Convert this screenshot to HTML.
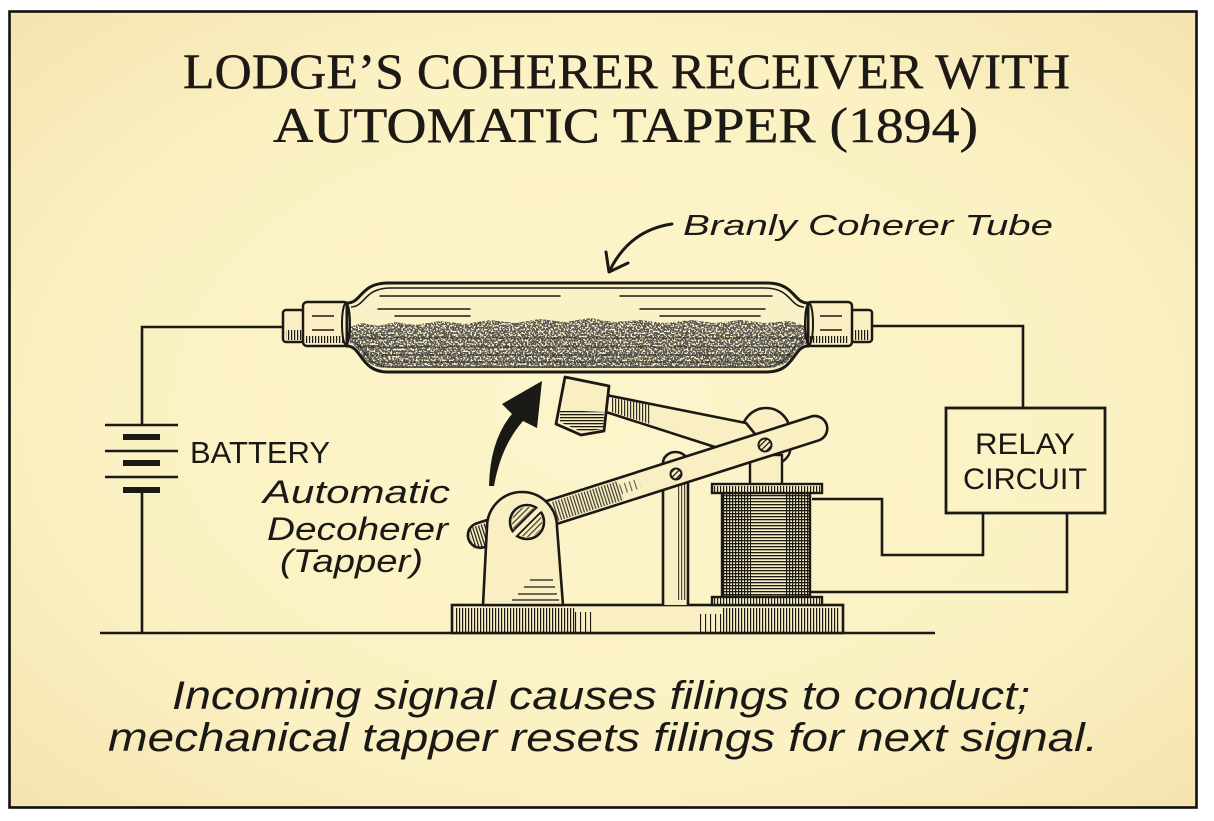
<!DOCTYPE html>
<html><head><meta charset="utf-8"><style>
html,body{margin:0;padding:0;background:#fff;}
svg{display:block;}
</style></head><body>
<svg width="1214" height="821" viewBox="0 0 1214 821" xmlns="http://www.w3.org/2000/svg">
<defs>
<radialGradient id="bg" cx="0.5" cy="0.5" r="0.75">
 <stop offset="0" stop-color="#fcf5cb"/>
 <stop offset="0.6" stop-color="#fbf1c3"/>
 <stop offset="1" stop-color="#f4e1ab"/>
</radialGradient>
<pattern id="vh" width="3" height="10" patternUnits="userSpaceOnUse"><rect x="0" y="0" width="1.2" height="10" fill="#1b1915"/></pattern>
<pattern id="vh2" width="5" height="10" patternUnits="userSpaceOnUse"><rect x="0" y="0" width="1.1" height="10" fill="#1b1915"/></pattern>
<pattern id="hh" width="10" height="3" patternUnits="userSpaceOnUse"><rect x="0" y="0" width="10" height="1.3" fill="#1b1915"/></pattern>
<pattern id="dh" width="4" height="4" patternUnits="userSpaceOnUse" patternTransform="rotate(45)"><rect width="1.3" height="4" fill="#1b1915"/></pattern>
<filter id="speck" x="340" y="315" width="480" height="62" filterUnits="userSpaceOnUse">
 <feTurbulence type="fractalNoise" baseFrequency="0.55" numOctaves="2" seed="7"/>
 <feColorMatrix type="matrix" values="0 0 0 0 0.11  0 0 0 0 0.1  0 0 0 0 0.09  1 0 0 0 0"/>
 <feComponentTransfer><feFuncA type="discrete" tableValues="0 0 0 0 0 0 0 0 0 1 1 1 1 1 1 1 1 1 1 1"/></feComponentTransfer>
</filter>
<clipPath id="fil"><path d="M 350 327 L 362 323 L 378 326 L 395 322 L 415 325 L 440 321 L 465 324 L 490 320 L 515 323 L 540 319 L 565 322 L 590 318 L 615 322 L 640 320 L 665 323 L 690 320 L 715 323 L 740 320 L 765 323 L 790 321 L 806 326 L 806 344 C 793 346 795 368 767 368 L 388 368 C 360 368 362 346 350 344 Z"/></clipPath>
</defs>

<!-- background -->
<rect x="0" y="0" width="1214" height="821" fill="#ffffff"/>
<rect x="9" y="11" width="1188" height="797" fill="url(#bg)"/>
<rect x="9.5" y="11.5" width="1187" height="796" fill="none" stroke="#111" stroke-width="2.6"/>

<!-- title -->
<g font-family="'Liberation Serif', serif" font-size="50" fill="#1d1a16" stroke="#1d1a16" stroke-width="0.4">
 <text x="183" y="88" textLength="887" lengthAdjust="spacingAndGlyphs">LODGE’S COHERER RECEIVER WITH</text>
 <text x="273" y="142" textLength="705" lengthAdjust="spacingAndGlyphs">AUTOMATIC TAPPER (1894)</text>
</g>

<!-- Branly label -->
<text x="683" y="235" font-family="'Liberation Sans', sans-serif" font-style="italic" font-size="29" fill="#1b1915" textLength="370" lengthAdjust="spacingAndGlyphs">Branly Coherer Tube</text>
<path d="M 672 224 Q 630 230 610 270" fill="none" stroke="#1b1915" stroke-width="3" stroke-linecap="round"/>
<path d="M 606 252 L 609 272 L 628 263" fill="none" stroke="#1b1915" stroke-width="3" stroke-linecap="round" stroke-linejoin="round"/>

<!-- wires -->
<g fill="none" stroke="#1b1915" stroke-width="2.6" stroke-linejoin="miter">
 <path d="M 283 327 H 142 V 425"/>
 <path d="M 142 490 V 633"/>
 <path d="M 100 633 H 935"/>
 <path d="M 872 326 H 1023 V 408"/>
 <path d="M 983 513 V 555 H 882 V 499 H 812"/>
 <path d="M 1067 513 V 592 H 810"/>
</g>

<!-- battery -->
<g stroke="#1b1915">
 <line x1="105" y1="425" x2="178" y2="425" stroke-width="2.6"/>
 <line x1="123" y1="437" x2="160" y2="437" stroke-width="6"/>
 <line x1="105" y1="451" x2="178" y2="451" stroke-width="2.6"/>
 <line x1="123" y1="463" x2="160" y2="463" stroke-width="6"/>
 <line x1="105" y1="477" x2="178" y2="477" stroke-width="2.6"/>
 <line x1="123" y1="490" x2="160" y2="490" stroke-width="6"/>
</g>
<text x="190" y="463" font-family="'Liberation Sans', sans-serif" font-size="31" fill="#1b1915" textLength="140" lengthAdjust="spacingAndGlyphs">BATTERY</text>

<!-- tapper labels -->
<g font-family="'Liberation Sans', sans-serif" font-style="italic" font-size="32" fill="#1b1915">
 <text x="263" y="503" textLength="187" lengthAdjust="spacingAndGlyphs">Automatic</text>
 <text x="267" y="540" textLength="181" lengthAdjust="spacingAndGlyphs">Decoherer</text>
 <text x="280" y="572" textLength="143" lengthAdjust="spacingAndGlyphs">(Tapper)</text>
</g>

<!-- relay -->
<rect x="946" y="408" width="159" height="105" fill="none" stroke="#1b1915" stroke-width="2.8"/>
<g font-family="'Liberation Sans', sans-serif" font-size="30" fill="#1b1915">
 <text x="975" y="454" textLength="100" lengthAdjust="spacingAndGlyphs">RELAY</text>
 <text x="963" y="489" textLength="124" lengthAdjust="spacingAndGlyphs">CIRCUIT</text>
</g>

<!-- tube caps -->
<g stroke="#1b1915" stroke-width="2.5">
 <rect x="283" y="310" width="21" height="32" rx="3" fill="#f9efc3"/>
 <rect x="303" y="302" width="45" height="44" rx="4" fill="#f9efc3"/>
 <rect x="851" y="310" width="21" height="32" rx="3" fill="#f9efc3"/>
 <rect x="807" y="302" width="45" height="44" rx="4" fill="#f9efc3"/>
</g>
<rect x="286" y="330" width="16" height="10" fill="url(#vh)"/>
<rect x="306" y="336" width="38" height="7" fill="url(#vh)"/>
<rect x="854" y="330" width="16" height="10" fill="url(#vh)"/>
<rect x="810" y="336" width="38" height="7" fill="url(#vh)"/>
<g stroke="#1b1915" stroke-width="1.4">
 <line x1="312" y1="316" x2="334" y2="316"/><line x1="312" y1="330" x2="334" y2="330"/>
 <line x1="820" y1="316" x2="842" y2="316"/><line x1="820" y1="330" x2="842" y2="330"/>
</g>

<!-- tube glass -->
<path d="M 347 303 C 362 303 360 283 388 283 L 767 283 C 795 283 793 303 808 303 L 808 346 C 793 346 795 372 767 372 L 388 372 C 360 372 362 346 347 346 Z" fill="#faf1c7" stroke="#1b1915" stroke-width="3"/>
<g fill="none" stroke="#1b1915" stroke-width="1.5">
 <path d="M 351 307 C 365 307 364 288 390 288 L 765 288 C 791 288 790 307 804 307"/>
 <path d="M 351 342 C 365 342 364 367 390 367 L 765 367 C 791 367 790 342 804 342"/>
</g>
<!-- filings -->
<rect x="340" y="315" width="480" height="62" fill="#000" filter="url(#speck)" clip-path="url(#fil)"/>
<g stroke="#1b1915" stroke-width="1" opacity="0.7" clip-path="url(#fil)">
 <line x1="350" y1="338" x2="806" y2="338"/>
 <line x1="350" y1="347" x2="806" y2="347"/>
 <line x1="350" y1="355" x2="806" y2="355"/>
 <line x1="350" y1="362" x2="806" y2="362"/>
</g>
<!-- highlight lines -->
<g stroke="#1b1915" stroke-width="1.5" stroke-linecap="round">
 <line x1="380" y1="296" x2="560" y2="296"/>
 <line x1="620" y1="296" x2="772" y2="296"/>
 <line x1="378" y1="309" x2="470" y2="309"/>
 <line x1="640" y1="309" x2="765" y2="309"/>
 <line x1="395" y1="316" x2="470" y2="316"/>
 <line x1="660" y1="316" x2="760" y2="316"/>
</g>
<ellipse cx="346" cy="324" rx="4" ry="21" fill="none" stroke="#1b1915" stroke-width="2"/>
<ellipse cx="809" cy="324" rx="4" ry="21" fill="none" stroke="#1b1915" stroke-width="2"/>

<!-- base plate -->
<rect x="452" y="605" width="391" height="28" fill="#f9efc3" stroke="#1b1915" stroke-width="2.6"/>
<rect x="455" y="608" width="120" height="24" fill="url(#vh)"/>
<rect x="575" y="612" width="20" height="20" fill="url(#vh2)"/>
<rect x="722" y="608" width="118" height="24" fill="url(#vh)"/>
<rect x="700" y="614" width="22" height="18" fill="url(#vh2)"/>

<!-- vertical post -->
<path d="M 663 605 V 463 A 12.5 11 0 0 1 688 463 V 605" fill="#f9efc3" stroke="#1b1915" stroke-width="2.6"/>
<rect x="677" y="480" width="9" height="120" fill="url(#vh)" opacity="0.8"/>

<!-- hammer rod + hub -->
<circle cx="766" cy="432" r="24" fill="#f9efc3" stroke="#1b1915" stroke-width="2.6"/>
<path d="M 606 395 L 746 423 L 760 440 L 718 448 L 606 412 Z" fill="#f9efc3" stroke="#1b1915" stroke-width="2.6" stroke-linejoin="round"/>
<path d="M 612 398 L 650 405 L 650 424 L 612 412 Z" fill="url(#vh)" opacity="0.9"/>

<!-- coil support -->
<rect x="750" y="455" width="32" height="30" fill="#f9efc3" stroke="#1b1915" stroke-width="2.4"/>
<path d="M 782 462 Q 792 455 790 445" fill="none" stroke="#1b1915" stroke-width="2.4"/>

<!-- coil -->
<rect x="722" y="493" width="88" height="104" fill="#f9efc3" stroke="#1b1915" stroke-width="2.4"/>
<rect x="723" y="494" width="86" height="102" fill="url(#hh)"/>
<rect x="723" y="494" width="28" height="102" fill="url(#vh)"/>
<rect x="786" y="494" width="23" height="102" fill="url(#vh)"/>
<rect x="712" y="484" width="110" height="9" fill="#f9efc3" stroke="#1b1915" stroke-width="2.4"/>
<rect x="714" y="486" width="106" height="6" fill="url(#vh)"/>
<rect x="712" y="597" width="110" height="8" fill="#f9efc3" stroke="#1b1915" stroke-width="2.4"/>
<rect x="714" y="598" width="106" height="6" fill="url(#vh)"/>

<!-- long lever arm -->
<g transform="translate(478,536) rotate(-17.7)">
 <rect x="-10" y="-12.5" width="376" height="25" rx="12.5" fill="#f9efc3" stroke="#1b1915" stroke-width="2.6"/>
 <rect x="-8" y="-10" width="22" height="21" fill="url(#vh)"/>
 <rect x="80" y="-10" width="70" height="20" fill="url(#vh)" opacity="0.85"/>
 <rect x="150" y="-6" width="20" height="10" fill="url(#vh2)" opacity="0.7"/>
</g>
<circle cx="676" cy="474" r="5.5" fill="url(#dh)" stroke="#1b1915" stroke-width="2"/>
<circle cx="765" cy="445" r="6.5" fill="url(#dh)" stroke="#1b1915" stroke-width="2"/>

<!-- pillar -->
<path d="M 483 605 L 487 527 A 35 35 0 0 1 557 527 L 563 605 Z" fill="#f9efc3" stroke="#1b1915" stroke-width="2.6" stroke-linejoin="round"/>
<g stroke="#1b1915" stroke-width="1.3">
 <line x1="530" y1="580" x2="553" y2="580"/>
 <line x1="524" y1="587" x2="555" y2="587"/>
 <line x1="518" y1="594" x2="557" y2="594"/>
 <line x1="512" y1="600" x2="559" y2="600"/>
</g>
<circle cx="527" cy="522" r="17" fill="#f9efc3" stroke="#1b1915" stroke-width="2.6"/>
<circle cx="527" cy="522" r="15" fill="url(#dh)" opacity="0.8"/>
<line x1="514" y1="535" x2="540" y2="509" stroke="#f9efc3" stroke-width="5"/>
<line x1="516" y1="537" x2="541" y2="512" stroke="#1b1915" stroke-width="1.8"/>
<line x1="512" y1="532" x2="537" y2="507" stroke="#1b1915" stroke-width="1.8"/>

<!-- hammer head -->
<path d="M 565 377 L 609 386 L 604 431 L 581 435 L 556 424 Z" fill="#f9efc3" stroke="#1b1915" stroke-width="2.8" stroke-linejoin="round"/>
<path d="M 560 410 L 604 412 L 603 429 L 582 432 L 560 422 Z" fill="url(#hh)"/>

<!-- curved arrow -->
<path d="M 489 486 Q 490 440 512 414 L 502 404 L 542 381 L 537 428 L 523 421 Q 501 446 494 486 Z" fill="#1b1915"/>

<!-- bottom caption -->
<g font-family="'Liberation Sans', sans-serif" font-style="italic" font-size="40" fill="#1b1915">
 <text x="172" y="709" textLength="858" lengthAdjust="spacingAndGlyphs">Incoming signal causes filings to conduct;</text>
 <text x="108" y="751" textLength="990" lengthAdjust="spacingAndGlyphs">mechanical tapper resets filings for next signal.</text>
</g>
</svg>
</body></html>
